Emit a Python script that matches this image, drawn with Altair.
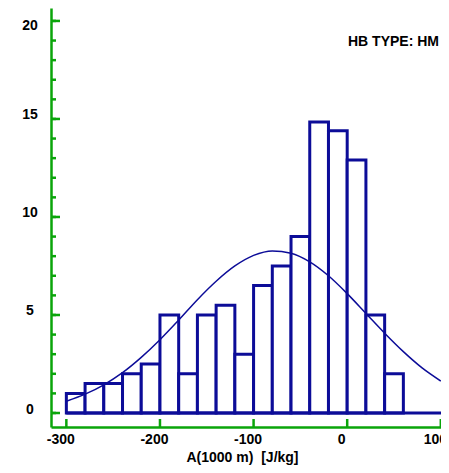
import altair as alt
import pandas as pd

# ---- data ----
bin_start = [-300, -280, -260, -240, -220, -200, -180, -160, -140, -120,
             -100, -80, -60, -40, -20, 0, 20, 40]
bin_width = 20
freq = [1.0, 1.5, 1.5, 2.0, 2.5, 5.0, 2.0, 5.0, 5.5, 3.0,
        6.5, 7.5, 9.0, 14.85, 14.4, 12.9, 5.0, 2.0]

curve_x = [-300, -280, -260, -240, -220, -200, -180, -160, -140, -120, -100,
           -80, -60, -40, -20, 0, 20, 40, 60, 80, 100]
curve_y = [0.60, 0.96, 1.44, 2.06, 2.84, 3.74, 4.74, 5.78, 6.72, 7.50, 8.04,
           8.27, 8.15, 7.71, 7.00, 6.09, 5.08, 4.07, 3.13, 2.30, 1.63]

x_ticks = [-300, -200, -100, 0, 100]
y_major = [0, 5, 10, 15, 20]
y_minor = list(range(0, 21))
x_domain = [-316.4, 100.2]
y_domain = [-0.714, 20.66]
annotation = "HB TYPE: HM"
x_title = "A(1000 m)\u00a0\u00a0[J/kg]"

NAVY = "#0c0c98"
GREEN = "#0aa50a"
FONT = "Liberation Sans"
W, H = 390, 419

bars = pd.DataFrame({
    "start": bin_start,
    "end": [s + bin_width for s in bin_start],
    "freq": freq,
})
curve = pd.DataFrame({"start": curve_x, "freq": curve_y})
base = pd.DataFrame({"start": [bin_start[0]], "end": [x_domain[1]], "freq": [0]})

xs = alt.Scale(domain=x_domain, nice=False, zero=False)
ys = alt.Scale(domain=y_domain, nice=False, zero=False)

x_axis = alt.Axis(
    values=x_ticks, labelExpr="'' + datum.value", labelFlush=False,
    labelOverlap=False, labelPadding=5, labelOffset=-6, labelBaseline="top",
    title=x_title, titleFont=FONT, titleFontSize=14, titleFontWeight="bold",
    titleColor="black", titleX=191, titleY=34, titleBaseline="alphabetic",
    titleAnchor="middle", titleAlign="center",
)
y_axis = alt.Axis(
    values=y_major, labelAlign="center", labelPadding=21.5,
    labelBaseline="alphabetic",
    labelOffset={"condition": {"test": "datum.value == 20", "value": 8.5}, "value": 0},
    title=None,
)

X = alt.X("start:Q", scale=xs, axis=x_axis)
Y = alt.Y("freq:Q", scale=ys, axis=y_axis)

bar_layer = alt.Chart(bars).mark_bar(
    fill="white", stroke=NAVY, strokeWidth=3, strokeJoin="miter"
).encode(x=X, x2="end:Q", y=Y, y2=alt.Y2(datum=0))

base_layer = alt.Chart(base).mark_rule(color=NAVY, strokeWidth=3).encode(
    x=X, x2="end:Q", y=Y,
)

curve_layer = alt.Chart(curve).mark_line(
    color=NAVY, strokeWidth=1.5, interpolate="monotone", clip=True
).encode(x=X, y=Y)

ymin_ticks = alt.Chart(pd.DataFrame({"freq": y_minor})).mark_rule(
    color=GREEN, strokeWidth=2.5
).encode(y=Y, x=alt.value(0), x2=alt.value(5))

ymaj_ticks = alt.Chart(pd.DataFrame({"freq": y_major})).mark_rule(
    color=GREEN, strokeWidth=2.5
).encode(y=Y, x=alt.value(0), x2=alt.value(9))

x_tick_marks = alt.Chart(pd.DataFrame({"start": x_ticks})).mark_rule(
    color=GREEN, strokeWidth=2.5
).encode(x=X, y=alt.value(H), y2=alt.value(H - 8))

label = alt.Chart(pd.DataFrame({"t": [annotation]})).mark_text(
    align="right", baseline="alphabetic", font=FONT, fontSize=14,
    fontWeight="bold", color="black",
).encode(text="t:N", x=alt.value(388), y=alt.value(38))

chart = alt.layer(
    bar_layer, base_layer, curve_layer, ymin_ticks, ymaj_ticks, x_tick_marks, label
).properties(
    width=W, height=H,
    autosize=alt.AutoSizeParams(type="none"),
    padding={"left": 43, "top": 0, "right": 0, "bottom": 38},
).configure_view(stroke=None).configure_axis(
    grid=False, ticks=False, tickSize=0, domainColor=GREEN, domainWidth=2.5,
    labelFont=FONT, labelFontSize=14, labelFontWeight="bold", labelColor="black",
)

chart.save("out.html", embed_options={"renderer": "svg", "actions": False})
